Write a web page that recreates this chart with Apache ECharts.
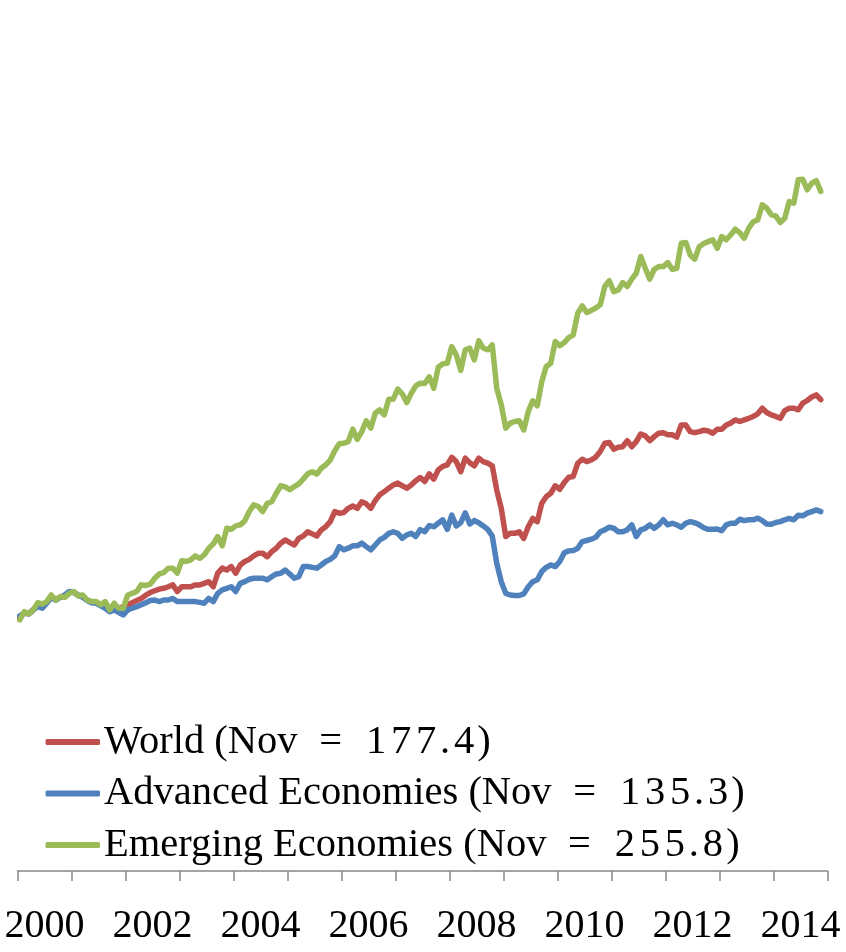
<!DOCTYPE html>
<html>
<head>
<meta charset="utf-8">
<script src="https://cdn.jsdelivr.net/npm/echarts@6/dist/echarts.min.js"></script>
<style>
html,body{margin:0;padding:0;background:#fff;}
#chart{width:846px;height:952px;}
</style>
</head>
<body>
<div id="chart"></div>
<script>
// Year labels (category axis, one band per year)
const years = ['2000','2001','2002','2003','2004','2005','2006','2007','2008','2009','2010','2011','2012','2013','2014'];
const seriesNames = ['World (Nov = 177.4)', 'Advanced Economies (Nov = 135.3)', 'Emerging Economies (Nov = 255.8)'];

// Monthly index values, Jan 2000 - Nov 2014
const world = [
95.2,97.3,96.8,98.3,100.2,99.7,101.1,103.4,102.0,103.1,103.4,104.8,
105.0,103.7,103.4,101.9,101.2,101.1,100.0,100.1,98.5,99.5,98.9,99.5,
100.2,101.0,101.8,102.6,103.8,104.8,105.5,106.1,106.4,107.0,107.7,105.2,
107.0,107.0,107.0,107.7,107.7,108.3,108.9,107.0,112.1,114.0,113.3,114.6,
112.1,115.2,116.5,117.3,118.6,119.6,119.6,118.3,120.2,121.5,123.4,124.6,
123.6,122.7,125.2,126.1,127.7,126.9,126.1,128.4,129.6,131.5,135.3,134.7,
134.9,136.5,137.4,136.5,139.0,138.2,136.5,139.4,141.6,142.8,144.1,145.3,
146.0,145.0,144.1,145.3,146.9,148.1,146.6,149.5,147.5,151.0,152.3,152.9,
155.7,154.1,150.3,155.4,153.7,152.5,155.4,154.1,153.5,152.5,143.4,136.5,
125.9,127.1,127.1,127.7,125.2,129.6,132.7,131.5,138.4,140.9,142.2,145.0,
143.7,146.2,148.2,148.5,153.5,155.0,154.1,154.7,155.8,157.9,161.0,161.3,
158.8,159.5,159.7,162.0,159.7,161.6,164.5,163.8,162.0,163.5,164.8,165.0,
164.2,164.2,163.3,167.9,167.9,165.4,165.0,165.4,165.9,165.6,164.8,166.3,
166.3,167.9,168.6,169.8,169.2,169.8,170.4,171.1,172.1,174.2,172.6,171.7,
171.1,170.4,173.3,174.2,174.2,173.6,176.1,177.1,178.4,179.2,177.4
];
const advanced = [
96.0,97.0,96.8,98.3,99.5,98.9,100.8,103.0,102.0,103.0,103.9,105.2,
104.8,103.9,103.0,101.8,101.0,100.8,99.8,98.9,97.6,98.3,97.3,96.4,
98.3,98.9,99.5,100.2,101.0,101.8,102.0,101.4,102.0,102.0,102.6,101.4,
101.4,101.4,101.4,101.4,101.1,100.8,102.6,101.4,104.5,105.8,106.4,107.0,
105.2,108.3,108.9,109.8,110.2,110.2,110.2,109.6,110.8,111.8,112.1,113.3,
111.8,110.2,110.8,114.6,114.6,114.3,114.0,115.2,116.5,117.3,118.6,122.1,
120.9,121.5,122.4,122.4,123.4,122.1,120.9,122.7,124.6,125.6,127.1,127.7,
127.1,125.2,126.5,127.1,125.9,128.5,127.7,130.0,129.6,130.9,132.2,128.6,
134.0,129.9,131.1,134.8,130.6,131.9,131.1,129.9,128.6,126.1,115.8,108.9,
104.5,103.9,103.7,103.7,104.3,107.0,108.9,109.6,112.7,114.3,115.2,114.6,
116.5,119.8,120.5,120.6,121.5,124.0,124.4,124.9,125.6,127.7,128.4,129.4,
129.0,127.7,127.7,128.4,130.3,125.9,128.4,129.0,130.3,129.0,130.3,132.2,
130.3,130.9,130.3,129.4,130.9,131.5,131.1,130.3,129.2,128.6,128.6,128.7,
128.1,130.3,130.9,130.9,132.4,131.9,132.2,132.2,132.8,131.9,130.6,130.5,
131.2,131.5,132.2,132.7,132.2,133.9,133.7,134.7,135.3,135.9,135.3
];
const emerging = [
94.5,97.6,96.8,98.3,101.0,100.5,101.4,103.9,102.0,103.3,103.0,104.5,
105.2,103.5,103.9,102.0,101.4,101.4,100.2,101.4,98.3,100.8,98.9,98.9,
103.9,104.5,105.2,107.7,107.5,108.0,110.2,111.8,112.3,114.0,114.0,112.1,
116.8,116.5,117.1,118.6,117.7,119.0,121.5,123.1,125.9,122.4,129.0,128.6,
129.9,130.3,131.8,135.3,137.8,137.2,135.3,138.4,139.0,142.2,145.0,144.6,
143.5,144.7,145.7,147.5,149.5,150.3,149.4,151.6,152.9,154.7,158.2,160.8,
161.0,161.6,166.3,162.5,165.4,169.5,166.7,172.3,173.6,171.7,177.6,177.6,
181.4,179.6,176.3,179.8,182.6,183.6,183.5,186.0,181.7,189.6,190.9,191.1,
197.4,194.3,188.4,196.2,196.8,192.4,199.6,196.8,196.2,198.0,181.7,175.5,
166.7,168.6,169.2,169.5,166.0,172.9,177.0,175.1,184.2,189.9,191.1,199.3,
197.7,198.9,200.8,201.8,210.0,212.7,210.2,211.0,211.9,213.1,220.0,222.2,
218.1,218.7,221.5,220.0,222.8,225.0,231.3,226.9,222.8,226.5,227.5,227.5,
229.0,226.5,226.9,236.3,236.6,231.9,230.3,235.0,236.2,236.9,237.6,234.4,
238.8,237.6,239.5,241.6,240.3,238.2,242.0,244.4,245.1,250.8,249.5,247.0,
246.6,244.1,245.7,252.0,251.4,260.2,260.4,256.4,258.9,259.9,255.8
];

// Monthly categories derived from the year list
const months = [];
years.forEach(y => { for (let k = 1; k <= 12; k++) months.push(y + '-' + (k < 10 ? '0' + k : k)); });

const colors = ['#C0504D', '#4F81BD', '#9BBB59'];
const FONT = '"Liberation Serif", "Times New Roman", serif';
const LFS = 40.5;

// Legend text: prefix in serif, "=" and the number in a wider, evenly spaced setting
function legendFormatter(name) {
  const m = name.match(/^(.*\(Nov) = (.*)$/);
  if (!m) return name;
  let s = '{p|' + m[1] + '}{e|=}';
  for (const ch of m[2]) {
    if (ch === '.') s += '{c|.}';
    else if (ch === ')') s += '{q|)}';
    else s += '{d|' + ch + '}';
  }
  return s;
}
const tok = (extra) => Object.assign({fontFamily: FONT, fontSize: LFS, color: '#000', lineHeight: 46}, extra);

const chart = echarts.init(document.getElementById('chart'), null, {renderer: 'canvas'});
chart.setOption({
  animation: false,
  backgroundColor: '#ffffff',
  grid: {left: 17.5, right: 18.5, top: 74, bottom: 81, containLabel: false},
  legend: {
    orient: 'vertical',
    left: 45.5,
    top: 719,
    padding: 0,
    itemWidth: 54.5,
    itemHeight: 6,
    itemGap: 5.5,
    icon: 'roundRect',
    formatter: legendFormatter,
    textStyle: {
      fontFamily: FONT, fontSize: LFS, color: '#000', lineHeight: 46, padding: [0, 0, 0, -1],
      rich: {
        p: tok({}),
        e: tok({width: 66, align: 'center'}),
        d: tok({width: 25, align: 'center'}),
        c: tok({width: 13, align: 'center'}),
        q: tok({width: 15, align: 'center'})
      }
    },
    data: seriesNames
  },
  xAxis: [
    {
      type: 'category',
      data: years,
      boundaryGap: true,
      axisLine: {show: true, lineStyle: {color: '#868686', width: 1.5}},
      axisTick: {show: true, interval: 0, length: 10, lineStyle: {color: '#868686', width: 1.5}},
      axisLabel: {interval: 1, margin: 35, fontFamily: FONT, fontSize: 40, color: '#000'},
      splitLine: {show: false}
    },
    {
      type: 'category',
      data: months,
      boundaryGap: true,
      show: false
    }
  ],
  yAxis: {
    type: 'value',
    min: 0,
    max: 300,
    show: false,
    splitLine: {show: false}
  },
  series: [
    {name: seriesNames[0], type: 'line', xAxisIndex: 1, data: world, showSymbol: false, symbol: 'none',
     lineStyle: {color: colors[0], width: 5.5, join: 'round', cap: 'round'}, itemStyle: {color: colors[0]}},
    {name: seriesNames[1], type: 'line', xAxisIndex: 1, data: advanced, showSymbol: false, symbol: 'none',
     lineStyle: {color: colors[1], width: 5.5, join: 'round', cap: 'round'}, itemStyle: {color: colors[1]}},
    {name: seriesNames[2], type: 'line', xAxisIndex: 1, data: emerging, showSymbol: false, symbol: 'none',
     lineStyle: {color: colors[2], width: 5.5, join: 'round', cap: 'round'}, itemStyle: {color: colors[2]}}
  ]
});
</script>
</body>
</html>
